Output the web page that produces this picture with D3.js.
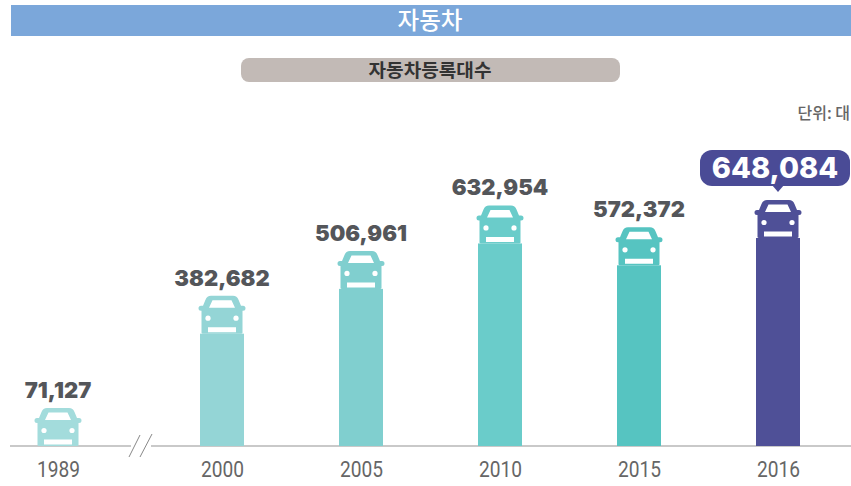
<!DOCTYPE html>
<html><head><meta charset="utf-8">
<script src="https://cdn.jsdelivr.net/npm/d3@7"></script>
<style>
html,body{margin:0;padding:0;background:#fff}
svg{display:block}
</style></head><body>
<svg id="c" width="851" height="486"></svg>
<script>
const years = ["1989","2000","2005","2010","2015","2016"];
const values = [71127,382682,506961,632954,572372,648084];
const colors = ["#a3dcdc","#94d5d6","#80cfcf","#6accca","#56c4c1","#4f5097"];
const chartTitle = "자동차";
const subTitle = "자동차등록대수";
const unitLabel = "단위: 대";

const svg = d3.select("#c");
const kr = "'Noto Sans CJK KR','Noto Sans',sans-serif";
const W = 851, baseY = 446;

// header
svg.append("rect").attr("x",11).attr("y",5).attr("width",W-11).attr("height",31).attr("fill","#7ba7da");
svg.append("text").attr("x",430).attr("y",29).attr("text-anchor","middle").attr("fill","#fff")
  .attr("font-family",kr).attr("font-weight",500).attr("font-size",23.5).text(chartTitle);
svg.append("rect").attr("x",241).attr("y",58).attr("width",379).attr("height",24).attr("rx",8).attr("fill","#c2bab6");
svg.append("text").attr("x",430).attr("y",77).attr("text-anchor","middle").attr("fill","#333")
  .attr("font-family",kr).attr("font-weight",700).attr("font-size",18.5).attr("textLength",123).attr("lengthAdjust","spacingAndGlyphs").text(subTitle);
svg.append("text").attr("x",850).attr("y",119).attr("text-anchor","end").attr("fill","#666")
  .attr("font-family",kr).attr("font-weight",500).attr("font-size",16).text(unitLabel);

// scales
const x = d3.scaleLinear().domain([0,1,5]).range([58,222,778]);
const xTick = d3.scaleOrdinal().domain(years).range(years.map((_,i)=>x(i)));
const y = d3.scaleLinear().domain([71127,648084]).range([baseY,238]);

// axis line with a break
const axis = d3.axisBottom(xTick).tickSize(0).tickPadding(15);
const ag = svg.append("g").attr("transform",`translate(0,${baseY})`).call(axis);
ag.select(".domain").remove();
ag.selectAll("text").attr("font-family","'Roboto',sans-serif")
  .attr("font-size",22).attr("fill","#666").attr("font-weight",400)
  .attr("textLength",43).attr("lengthAdjust","spacingAndGlyphs");
const line = d3.line();
[[[10,baseY],[131,baseY]],[[151,baseY],[851,baseY]]].forEach(s=>{
  svg.append("path").attr("d",line(s)).attr("stroke","#c9c9c9").attr("stroke-width",2).attr("fill","none");
});
[[[129,457],[140,435]],[[140,457],[152,434]]].forEach(s=>{
  svg.append("path").attr("d",line(s)).attr("stroke","#888").attr("stroke-width",1).attr("fill","none");
});

// bars (1989 is the baseline value: zero height)
svg.selectAll("rect.bar").data(values).join("rect").attr("class","bar")
  .attr("x",(d,i)=>x(i)-22).attr("width",44)
  .attr("y",d=>y(d)).attr("height",d=>baseY-y(d))
  .attr("fill",(d,i)=>colors[i]);

// car glyph sits on top of each bar
const carBody = "M-11,-38 H11 Q15,-38 16.5,-34 L19,-28 H21 Q23.5,-28 23.5,-25.5 Q23.5,-23 21,-23 H20.5 V-1 Q20.5,0 19,0 H-19 Q-20.5,0 -20.5,-1 V-23 H-21 Q-23.5,-23 -23.5,-25.5 Q-23.5,-28 -21,-28 H-19 L-16.5,-34 Q-15,-38 -11,-38 Z";
const carHoles = "M-9.5,-33.5 H9.5 L13,-26 H-13 Z M-14,-6.5 H14 V-1.5 H-14 Z";
const cars = svg.selectAll("g.car").data(values).join("g").attr("class","car")
  .attr("transform",(d,i)=>`translate(${x(i)},${y(d)})`);
cars.append("path").attr("d",carBody).attr("fill",(d,i)=>colors[i]);
cars.append("path").attr("d",carHoles).attr("fill","#fff");
cars.selectAll("circle").data([-14,14]).join("circle").attr("cx",d=>d).attr("cy",-15.5).attr("r",2.6).attr("fill","#fff");

// value labels
const fmt = d3.format(",");
const last = values.length-1;
svg.selectAll("text.val").data(values.slice(0,last)).join("text").attr("class","val")
  .attr("x",(d,i)=>x(i)).attr("y",d=>y(d)-48).attr("text-anchor","middle")
  .attr("font-family","'Inter',sans-serif").attr("font-weight",900).attr("font-size",22)
  .attr("fill","#54565a").text(d=>fmt(d));

// highlighted bubble
const hx = x(last), hy = y(values[last]);
const b = svg.append("g").attr("transform",`translate(${hx},${hy})`);
b.append("rect").attr("x",-78).attr("y",-88).attr("width",150).attr("height",36).attr("rx",12).attr("fill","#4a4b96");
b.append("path").attr("d","M-6,-53 L0,-46 L6,-53 Z").attr("fill","#4a4b96");
b.append("text").attr("x",-3).attr("y",-60).attr("text-anchor","middle").attr("fill","#fff")
  .attr("font-family","'Inter',sans-serif").attr("font-weight",800).attr("font-size",29)
  .text(fmt(values[last]));
</script>
</body></html>
